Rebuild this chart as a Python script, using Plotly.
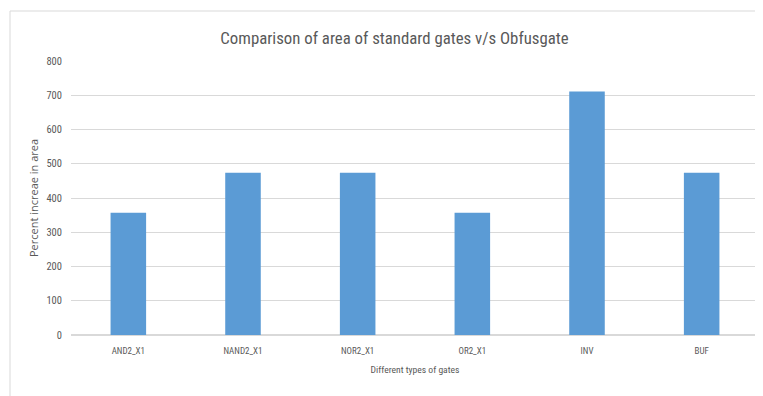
import plotly.graph_objects as go

categories = ["AND2_X1", "NAND2_X1", "NOR2_X1", "OR2_X1", "INV", "BUF"]
values = [357, 474, 474, 357, 711, 474]
y_ticks = [0, 100, 200, 300, 400, 500, 600, 700, 800]

# page body has an 8px margin, so the figure is sized/offset to compensate
W, H = 755, 388
L, R, T, B = 63, 4, 53, 61
pw, ph = W - L - R, H - T - B

def px_x(p):
    return (p - L) / pw

def px_y(p):
    return (H - B - p) / ph

narrow = "Roboto Condensed, sans-serif"
grey = "#595959"

fig = go.Figure(go.Bar(x=categories, y=values, marker=dict(color="#5B9BD5", line=dict(width=0))))

fig.update_layout(
    width=W, height=H,
    margin=dict(l=L, r=R, t=T, b=B),
    paper_bgcolor="white", plot_bgcolor="white",
    bargap=0.69,
    showlegend=False,
    title=dict(text="Comparison of area of standard gates v/s Obfusgate",
               x=386.5 / W, xanchor="center", y=1 - 30 / H, yanchor="middle",
               font=dict(family=narrow, size=16.8, color=grey)),
    font=dict(family=narrow, color=grey),
    xaxis=dict(showgrid=False, showline=False, ticks="", tickfont=dict(family=narrow, size=9, color=grey),
               ticklabelstandoff=9,
               title=dict(text="Different types of gates", font=dict(family=narrow, size=9.6, color=grey), standoff=11)),
    yaxis=dict(range=[0, 800], tickvals=y_ticks, showgrid=True, gridcolor="#D9D9D9", gridwidth=1,
               zeroline=True, zerolinecolor="#D9D9D9", showline=False, ticks="",
               tickfont=dict(family=narrow, size=10.5, color=grey), ticklabelstandoff=8,
               title=dict(text="Percent increae in area", font=dict(family="Open Sans, sans-serif", size=11, color=grey), standoff=5)),
    shapes=[dict(type="rect", xref="paper", yref="paper",
                 x0=px_x(2), x1=px_x(770), y0=px_y(400), y1=px_y(3),
                 line=dict(color="#D9D9D9", width=1), fillcolor="rgba(0,0,0,0)", layer="below")],
)

fig.write_html("out.html")
